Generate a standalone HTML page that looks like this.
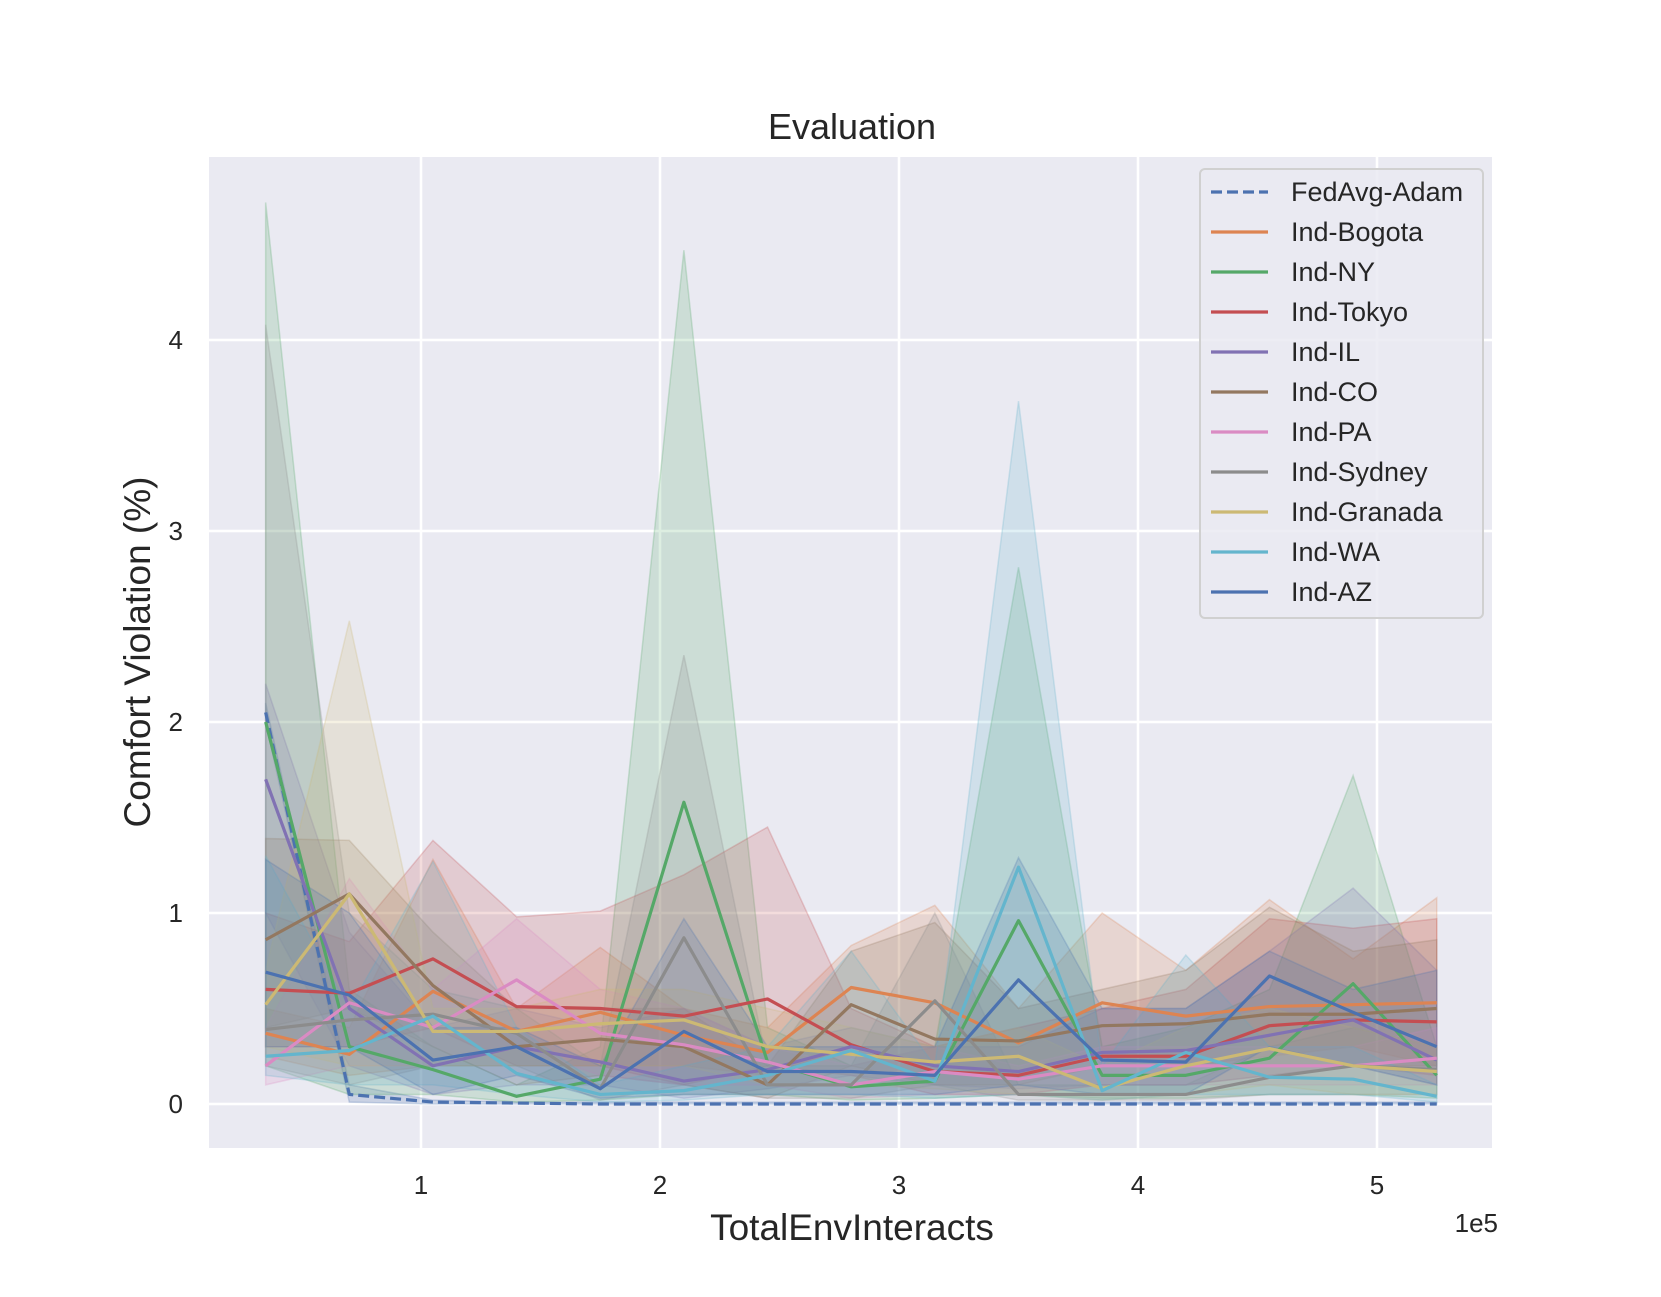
<!DOCTYPE html>
<html><head><meta charset="utf-8"><style>
body{margin:0;background:#fff;}
svg text{font-family:"Liberation Sans",Arial,sans-serif;fill:#262626;}
</style></head><body>
<svg id="chart" width="1661" height="1292" viewBox="0 0 1661 1292" xmlns="http://www.w3.org/2000/svg">
<rect x="209" y="157" width="1283" height="991" fill="#eaeaf2"/>
<g id="grid"></g>
<g id="bands"></g>
<g id="lines"></g>
<g id="ticks"></g>
<text x="852" y="139" font-size="36" text-anchor="middle">Evaluation</text>
<text x="852" y="1240" font-size="37" text-anchor="middle">TotalEnvInteracts</text>
<text x="1498" y="1232" font-size="26" text-anchor="end">1e5</text>
<text x="150" y="652" font-size="37" text-anchor="middle" transform="rotate(-90 150 652)">Comfort Violation (%)</text>
<g id="legend"></g>
</svg>
<script>
const xs = [0.35,0.7,1.05,1.4,1.75,2.1,2.45,2.8,3.15,3.5,3.85,4.2,4.55,4.9,5.25];
const xTicks = [1,2,3,4,5];
const yTicks = [0,1,2,3,4];
const names = ["FedAvg-Adam","Ind-Bogota","Ind-NY","Ind-Tokyo","Ind-IL","Ind-CO","Ind-PA","Ind-Sydney","Ind-Granada","Ind-WA","Ind-AZ"];
const colors = ["#4c72b0","#dd8452","#55a868","#c44e52","#8172b3","#937860","#da8bc3","#8c8c8c","#ccb974","#64b5cd","#4c72b0"];
const meanFed = [2.05,0.05,0.01,0.005,0,0,0,0,0,0,0,0,0,0,0];
const meanBogota = [0.37,0.26,0.59,0.38,0.48,0.36,0.27,0.61,0.53,0.32,0.53,0.46,0.51,0.52,0.53];
const meanNY = [2.0,0.3,0.18,0.04,0.13,1.58,0.22,0.09,0.12,0.96,0.15,0.15,0.24,0.63,0.15];
const meanTokyo = [0.6,0.58,0.76,0.51,0.5,0.46,0.55,0.31,0.17,0.15,0.25,0.25,0.41,0.44,0.43];
const meanIL = [1.7,0.5,0.2,0.3,0.22,0.12,0.18,0.3,0.2,0.17,0.27,0.28,0.36,0.44,0.23];
const meanCO = [0.86,1.1,0.62,0.3,0.34,0.3,0.1,0.52,0.34,0.33,0.41,0.42,0.47,0.47,0.5];
const meanPA = [0.2,0.53,0.4,0.65,0.37,0.31,0.22,0.1,0.17,0.13,0.2,0.2,0.2,0.2,0.24];
const meanSydney = [0.39,0.44,0.47,0.37,0.08,0.87,0.1,0.1,0.54,0.05,0.05,0.05,0.14,0.2,0.18];
const meanGranada = [0.52,1.1,0.38,0.38,0.42,0.44,0.3,0.26,0.22,0.25,0.08,0.2,0.29,0.2,0.17];
const meanWA = [0.25,0.28,0.46,0.16,0.05,0.07,0.15,0.28,0.12,1.24,0.07,0.27,0.14,0.13,0.04];
const meanAZ = [0.69,0.57,0.23,0.3,0.08,0.38,0.17,0.17,0.15,0.65,0.23,0.22,0.67,0.48,0.3];
const upFed = [2.1,0.1,0.02,0.01,0.01,0.01,0.01,0.01,0.01,0.01,0.01,0.01,0.01,0.01,0.01];
const upBogota = [0.5,0.4,1.28,0.5,0.82,0.5,0.4,0.83,1.04,0.5,1.0,0.7,1.07,0.76,1.08];
const upNY = [4.72,0.6,0.3,0.1,0.3,4.47,0.4,0.2,0.3,2.81,0.3,0.4,0.6,1.72,0.3];
const upTokyo = [1.0,0.85,1.38,0.98,1.01,1.2,1.45,0.5,0.3,0.4,0.5,0.6,0.97,0.92,0.97];
const upIL = [2.2,0.9,0.4,0.5,0.4,0.5,0.3,0.4,0.3,0.3,0.5,0.5,0.8,1.13,0.7];
const upCO = [1.39,1.38,0.9,0.5,0.5,0.5,0.2,0.8,0.95,0.5,0.6,0.7,1.03,0.8,0.86];
const upPA = [0.4,1.18,0.6,0.97,0.6,0.5,0.3,0.2,0.3,0.2,0.3,0.3,0.3,0.3,0.4];
const upSydney = [4.08,1.0,0.6,0.5,0.2,2.35,0.2,0.2,1.0,0.1,0.1,0.1,0.3,0.4,0.3];
const upGranada = [0.7,2.53,0.5,0.5,0.6,0.6,0.5,0.4,0.3,0.4,0.2,0.4,0.5,0.4,0.3];
const upWA = [1.3,0.5,1.27,0.4,0.1,0.2,0.3,0.8,0.2,3.68,0.2,0.78,0.3,0.3,0.1];
const upAZ = [1.28,1.0,0.4,0.4,0.2,0.97,0.3,0.3,0.3,1.29,0.5,0.5,0.8,0.6,0.7];
const loFed = [2.0,0.01,0,0,0,0,0,0,0,0,0,0,0,0,0];
const loBogota = [0.25,0.15,0.2,0.2,0.2,0.2,0.15,0.3,0.2,0.15,0.25,0.2,0.25,0.3,0.2];
const loNY = [0.2,0.05,0.05,0.01,0.02,0.05,0.05,0.02,0.03,0.05,0.03,0.03,0.05,0.05,0.03];
const loTokyo = [0.3,0.3,0.4,0.2,0.2,0.1,0.2,0.15,0.05,0.05,0.1,0.1,0.15,0.2,0.15];
const loIL = [1.0,0.2,0.05,0.1,0.1,0.03,0.08,0.15,0.1,0.08,0.1,0.1,0.15,0.2,0.1];
const loCO = [0.4,0.5,0.3,0.1,0.15,0.1,0.03,0.2,0.1,0.1,0.2,0.2,0.2,0.2,0.2];
const loPA = [0.1,0.2,0.2,0.3,0.15,0.1,0.1,0.03,0.05,0.05,0.1,0.1,0.1,0.1,0.1];
const loSydney = [0.2,0.1,0.2,0.2,0.02,0.1,0.03,0.03,0.1,0.02,0.02,0.02,0.05,0.05,0.05];
const loGranada = [0.3,0.2,0.2,0.2,0.2,0.2,0.1,0.1,0.08,0.05,0.02,0.05,0.1,0.05,0.05];
const loWA = [0.15,0.1,0.1,0.05,0.01,0.02,0.05,0.05,0.03,0.05,0.02,0.05,0.05,0.05,0.01];
const loAZ = [0.3,0.3,0.05,0.15,0.03,0.05,0.05,0.05,0.05,0.1,0.05,0.05,0.3,0.2,0.1];
const means=[meanFed,meanBogota,meanNY,meanTokyo,meanIL,meanCO,meanPA,meanSydney,meanGranada,meanWA,meanAZ];
const ups=[upFed,upBogota,upNY,upTokyo,upIL,upCO,upPA,upSydney,upGranada,upWA,upAZ];
const los=[loFed,loBogota,loNY,loTokyo,loIL,loCO,loPA,loSydney,loGranada,loWA,loAZ];
const NS="http://www.w3.org/2000/svg";
function X(v){return 182+239*v;}
function Y(v){return 1104-191*v;}
function mk(t,a,p){const e=document.createElementNS(NS,t);for(const k in a)e.setAttribute(k,a[k]);p.appendChild(e);return e;}
const grid=document.getElementById('grid'),ticks=document.getElementById('ticks');
xTicks.forEach(t=>{
  const l=mk('line',{x1:X(t),x2:X(t),y1:157,y2:1148,stroke:'#fff','stroke-width':2.6},grid);
  
  
  const tx=mk('text',{x:X(t),y:1194,'font-size':26,'text-anchor':'middle'},ticks);tx.textContent=t;
  
  
});
yTicks.forEach(t=>{
  const l=mk('line',{x1:209,x2:1492,y1:Y(t),y2:Y(t),stroke:'#fff','stroke-width':2.6},grid);
  
  
  const tx=mk('text',{x:183,y:Y(t)+9,'font-size':26,'text-anchor':'end'},ticks);tx.textContent=t;
  
  
});
const bands=document.getElementById('bands'),lines=document.getElementById('lines');
names.forEach((n,i)=>{
  let pts=xs.map((x,j)=>X(x)+','+Y(ups[i][j]));
  for(let j=xs.length-1;j>=0;j--)pts.push(X(xs[j])+','+Y(los[i][j]));
  const b=mk('polygon',{points:pts.join(' '),fill:colors[i],'fill-opacity':0.2,stroke:colors[i],'stroke-opacity':0.25,'stroke-width':1.5},bands);
  
  
});
names.forEach((n,i)=>{
  const p=mk('polyline',{points:xs.map((x,j)=>X(x)+','+Y(means[i][j])).join(' '),fill:'none',stroke:colors[i],'stroke-width':3.2,'stroke-linejoin':'round'},lines);
  if(i===0)p.setAttribute('stroke-dasharray','11,5');
  
  
});
const lg=document.getElementById('legend');
const box=mk('rect',{x:1200,y:169,width:283,height:449,rx:5,fill:'#eaeaf2','fill-opacity':0.85,stroke:'#d0d0d0','stroke-width':2},lg);


names.forEach((n,i)=>{
  const y=192+i*40;
  const l=mk('line',{x1:1211,x2:1268,y1:y,y2:y,stroke:colors[i],'stroke-width':3.2},lg);
  if(i===0)l.setAttribute('stroke-dasharray','11,5');
  
  
  const t=mk('text',{x:1291,y:y+9,'font-size':27},lg);t.textContent=n;
  
  
});
</script>
</body></html>
